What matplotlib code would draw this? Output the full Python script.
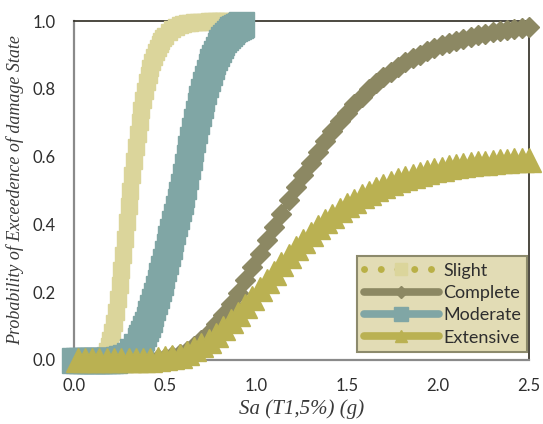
import numpy as np
import matplotlib
matplotlib.use("Agg")
import matplotlib.pyplot as plt
from matplotlib.lines import Line2D

# Sa (g) sample points of each fragility curve
sa_slight = np.round(np.concatenate([np.arange(0, 0.101, 0.02),
                                     np.arange(0.11, 0.505, 0.01),
                                     np.arange(0.52, 0.845, 0.02)]), 2)
sa_moderate = np.round(np.concatenate([np.arange(0, 0.365, 0.02),
                                       np.arange(0.37, 0.925, 0.01)]), 2)
sa_wide = np.round(np.arange(0.02, 2.51, 0.04), 2)

# probability of exceedence
p_slight = [0, 0, 0, 0, 0, 0,
            0.000, 0.000, 0.001, 0.002, 0.005, 0.009, 0.016, 0.026, 0.040, 0.059,
            0.082, 0.110, 0.143, 0.180, 0.221, 0.265, 0.311, 0.358, 0.406, 0.453,
            0.500, 0.545, 0.588, 0.629, 0.668, 0.703, 0.736, 0.766, 0.794, 0.819,
            0.841, 0.861, 0.879, 0.894, 0.908, 0.921, 0.931, 0.941, 0.949, 0.956,
            0.968, 0.976, 0.983, 0.987, 0.991, 0.993, 0.995, 0.996, 0.997, 0.998,
            0.998, 0.999, 0.999, 0.999, 1.0, 1.0, 1.0]

p_moderate = [0, 0, 0, 0, 0, 0, 0, 0, 0, 0, 0,
              0.001, 0.002, 0.005, 0.009, 0.016, 0.026, 0.040, 0.058,
              0.069, 0.081, 0.093, 0.107, 0.122, 0.138, 0.155, 0.173, 0.191, 0.211,
              0.231, 0.251, 0.272, 0.293, 0.315, 0.337, 0.359, 0.381, 0.403, 0.425,
              0.447, 0.468, 0.490,
              0.514, 0.543, 0.571, 0.599, 0.626, 0.653, 0.679, 0.704, 0.728, 0.751,
              0.773, 0.794, 0.814, 0.833, 0.850, 0.866, 0.881, 0.894, 0.907, 0.918,
              0.928, 0.938, 0.946, 0.953, 0.960, 0.966, 0.971, 0.975, 0.979, 0.982,
              0.985, 0.988, 0.990]

p_complete = [0, 0, 0, 0, 0, 0, 0, 0, 0, 0,
              0.001, 0.003, 0.006, 0.011, 0.018, 0.028, 0.042, 0.059, 0.080, 0.105,
              0.133, 0.165, 0.199, 0.235, 0.274, 0.313, 0.353, 0.393, 0.432, 0.471,
              0.510, 0.546, 0.581, 0.615, 0.646, 0.676, 0.704, 0.730, 0.755, 0.777,
              0.798, 0.817, 0.834, 0.850, 0.865, 0.878, 0.890, 0.901, 0.911, 0.920,
              0.928, 0.936, 0.942, 0.948, 0.954, 0.959, 0.963, 0.967, 0.970, 0.973,
              0.976, 0.979, 0.981]

p_extensive = [0, 0, 0, 0, 0, 0, 0, 0, 0, 0,
               0.001, 0.002, 0.005, 0.008, 0.013, 0.021, 0.031, 0.043, 0.057, 0.074,
               0.093, 0.114, 0.136, 0.160, 0.184, 0.209, 0.233, 0.258, 0.282, 0.306,
               0.329, 0.350, 0.371, 0.391, 0.409, 0.426, 0.442, 0.457, 0.470, 0.483,
               0.494, 0.505, 0.514, 0.523, 0.531, 0.538, 0.544, 0.550, 0.555, 0.560,
               0.564, 0.568, 0.572, 0.575, 0.577, 0.580, 0.582, 0.584, 0.586, 0.587,
               0.589, 0.590, 0.591]

c_slight = "#dbd59b"
c_slight_line = "#b9b046"
c_moderate = "#80a6a5"
c_complete = "#8c8863"
c_extensive = "#bab152"

plt.rcParams["font.family"] = ["Lato", "DejaVu Sans"]

fig = plt.figure(figsize=(5.43, 4.24), dpi=100)
ax = fig.add_axes([74 / 543, 64 / 424, 455 / 543, 339 / 424])

ax.plot(sa_slight, p_slight, color=c_slight, lw=4, marker="s", ms=11,
        mfc=c_slight, mec=c_slight, clip_on=False, zorder=3)
ax.plot(sa_wide, p_complete, color=c_complete, lw=4, marker="D", ms=10.5,
        mfc=c_complete, mec=c_complete, clip_on=False, zorder=3)
ax.plot(sa_moderate, p_moderate, color=c_moderate, lw=4, marker="s", ms=18,
        mfc=c_moderate, mec=c_moderate, clip_on=False, zorder=3)
ax.plot(sa_wide, p_extensive, color=c_extensive, lw=4, marker="^", ms=17,
        mfc=c_extensive, mec=c_extensive, clip_on=False, zorder=3)

ax.set_xlim(0, 2.5)
ax.set_ylim(0, 1.0)
ax.set_xticks([0, 0.5, 1.0, 1.5, 2.0, 2.5])
ax.set_yticks([0, 0.2, 0.4, 0.6, 0.8, 1.0])
ax.set_xticklabels(["0.0", "0.5", "1.0", "1.5", "2.0", "2.5"])
ax.set_yticklabels(["0.0", "0.2", "0.4", "0.6", "0.8", "1.0"])
ax.tick_params(length=0, labelsize=12, labelcolor="#2e2e2e", pad=13)

for side in ["left", "bottom"]:
    ax.spines[side].set_color("#8a8a8a")
    ax.spines[side].set_linewidth(1.6)
for side in ["top", "right"]:
    ax.spines[side].set_color("#2e2a20")
    ax.spines[side].set_linewidth(1.2)

ax.set_xlabel("Sa (T1,5%) (g)", family="Liberation Serif", style="italic",
              fontsize=15, color="#3a3a3a", labelpad=4)
ax.set_ylabel("Probability of Exceedence of damage State", family="Liberation Serif",
              style="italic", fontsize=13, color="#3a3a3a", labelpad=6)

handles = [
    Line2D([], [], color=c_slight_line, lw=5, linestyle=(0, (0.01, 2.4)),
           dash_capstyle="round", marker="s", ms=9, mfc=c_slight, mec=c_slight),
    Line2D([], [], color=c_complete, lw=5.5, solid_capstyle="round",
           marker="D", ms=6, mfc=c_complete, mec=c_complete),
    Line2D([], [], color=c_moderate, lw=5.5, solid_capstyle="round",
           marker="s", ms=10, mfc=c_moderate, mec=c_moderate),
    Line2D([], [], color=c_extensive, lw=5.5, solid_capstyle="round",
           marker="^", ms=9, mfc=c_extensive, mec=c_extensive),
]
leg = ax.legend(handles, ["Slight", "Complete", "Moderate", "Extensive"],
                loc="lower right", bbox_to_anchor=(0.996, 0.024), fontsize=13,
                handlelength=4.2, handletextpad=0.2, labelspacing=0.35,
                borderpad=0.35, borderaxespad=0, fancybox=False, numpoints=1,
                framealpha=1)
leg.get_frame().set_facecolor("#e2dcb5")
leg.get_frame().set_edgecolor("#8c8a6c")
leg.get_frame().set_linewidth(1.5)
for t in leg.get_texts():
    t.set_color("#2e2e2e")
leg.set_zorder(5)

fig.savefig("out.png", dpi=100)
